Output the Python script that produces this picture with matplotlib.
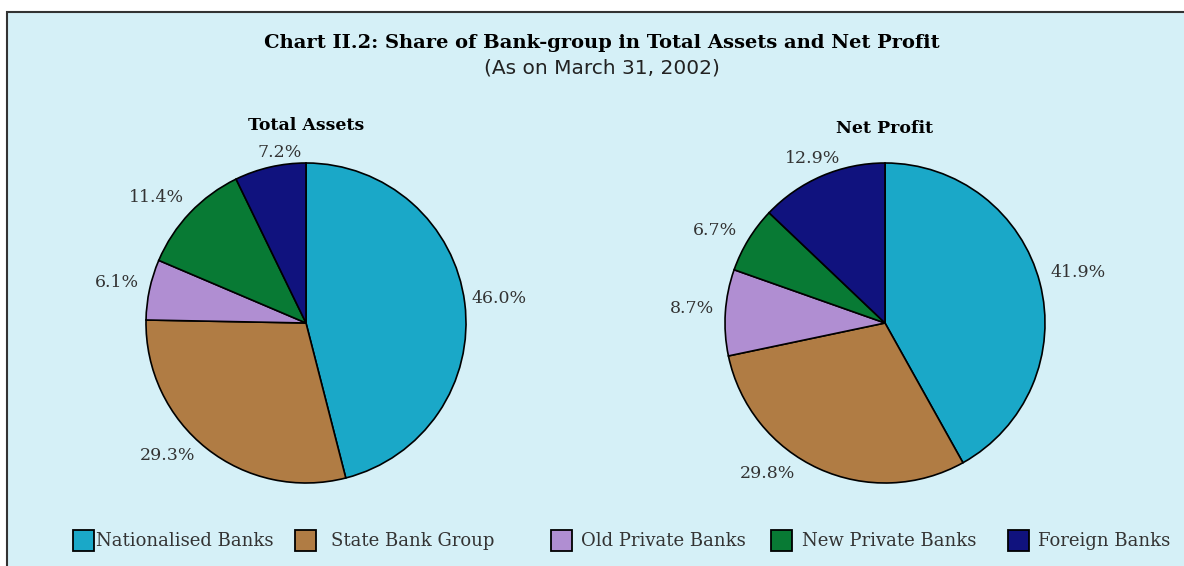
import numpy as np
import matplotlib
matplotlib.use('Agg')
import matplotlib.pyplot as plt
from matplotlib.patches import Rectangle

# Parcelas por grupo de bancos (%), em 31 de março de 2002
bank_groups = ["Nationalised Banks", "State Bank Group", "Old Private Banks",
               "New Private Banks", "Foreign Banks"]
total_assets = [46.0, 29.3, 6.1, 11.4, 7.2]
net_profit = [41.9, 29.8, 8.7, 6.7, 12.9]

colors = ["#1aa8c8", "#b07c44", "#b08ed2", "#087a34", "#10127e"]
BG = "#d5f0f7"
SERIF = "DejaVu Serif"

fig = plt.figure(figsize=(11.84, 5.66), dpi=100)
W, H = 1184, 566

# painel de fundo com moldura
fig.patches.append(Rectangle((7 / W, -0.05), 1.1, 1 - 12 / H + 0.05,
                             transform=fig.transFigure, facecolor=BG,
                             edgecolor="#333333", linewidth=1.5, zorder=-10))

fig.text(602 / W, 1 - 43 / H, "Chart II.2: Share of Bank-group in Total Assets and Net Profit",
         ha="center", va="center", fontsize=14, fontweight="bold", family=SERIF)
fig.text(602 / W, 1 - 68 / H, "(As on March 31, 2002)",
         ha="center", va="center", fontsize=14.5, family="DejaVu Sans", color="#222222")


def draw_pie(cx, cy, values, title, title_y, label_r, label_dang):
    # eixo de 400 px com 160 px por unidade
    ax = fig.add_axes([(cx - 200) / W, (H - cy - 200) / H, 400 / W, 400 / H])
    ax.set_xlim(-1.25, 1.25)
    ax.set_ylim(-1.25, 1.25)
    ax.set_aspect("equal")
    ax.axis("off")
    wedges, _ = ax.pie(values, colors=colors, startangle=90, counterclock=False,
                       radius=1.0,
                       wedgeprops=dict(edgecolor="black", linewidth=1.2))
    # rótulos fora da pizza, no ângulo médio de cada fatia (com pequeno ajuste)
    for w, v, r, da in zip(wedges, values, label_r, label_dang):
        ang = np.deg2rad((w.theta1 + w.theta2) / 2 + da)
        ax.text(r * np.cos(ang), r * np.sin(ang), f"{v:.1f}%",
                ha="center", va="center", fontsize=12.5, family=SERIF,
                color="#333333")
    fig.text(cx / W, 1 - title_y / H, title, ha="center", va="center",
             fontsize=12.5, fontweight="bold", family=SERIF)
    return ax


draw_pie(306, 323, total_assets, "Total Assets", 126,
         [1.215, 1.2, 1.21, 1.22, 1.075], [0, -8, 0, 3.6, -4.3])
draw_pie(885, 323, net_profit, "Net Profit", 128,
         [1.246, 1.19, 1.21, 1.21, 1.125], [0, -13.5, -0.5, 3.1, 0.4])

# legenda com caixas de cor desenhadas à mão
patch_x = [73, 295, 551, 771, 1008]
text_x = [96, 331, 581, 802, 1038]
for c, name, px, tx in zip(colors, bank_groups, patch_x, text_x):
    fig.patches.append(Rectangle((px / W, 1 - 551 / H), 21 / W, 21 / H,
                                 transform=fig.transFigure, facecolor=c,
                                 edgecolor="black", linewidth=1.3))
    fig.text(tx / W, 1 - 541 / H, name, ha="left", va="center",
             fontsize=13, family=SERIF, color="#333333")

fig.savefig("out.png", dpi=100)
